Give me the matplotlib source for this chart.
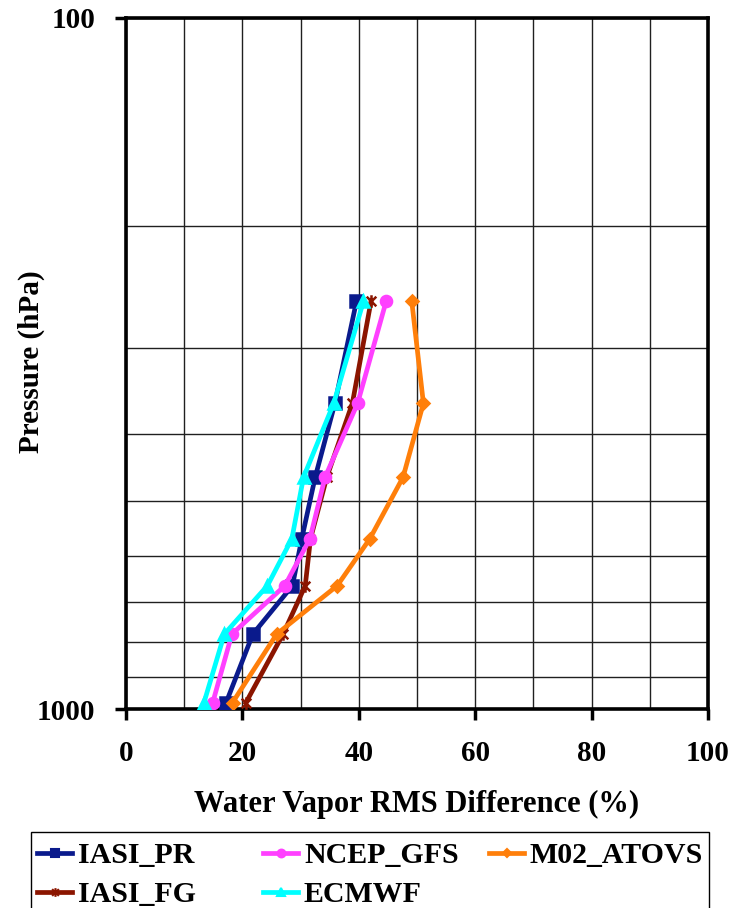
import matplotlib
matplotlib.use("Agg")
import matplotlib.pyplot as plt
from matplotlib.path import Path
from matplotlib.lines import Line2D
from matplotlib.patches import Rectangle
from matplotlib.ticker import FixedLocator, NullFormatter, MultipleLocator

# ── data: RMS difference (%) at each pressure layer ──────────────────────────
pressure = [257, 361, 462, 567, 663, 779, 979]

iasi_pr   = [39.6, 35.9, 32.5, 30.2, 28.6, 21.8, 17.2]
iasi_fg   = [42.1, 38.9, 34.5, 31.7, 30.8, 27.0, 20.6]
ncep_gfs  = [44.7, 39.8, 34.2, 31.6, 27.3, 18.2, 14.9]
ecmwf     = [40.8, 35.7, 30.5, 28.5, 24.3, 16.9, 13.4]
m02_atovs = [49.1, 51.1, 47.6, 41.9, 36.3, 25.9, 18.3]

x_ticks = [0, 20, 40, 60, 80, 100]
y_ticks = [100, 1000]

# star marker: an X with a vertical bar through it
star = Path([(-1, -1), (1, 1), (-1, 1), (1, -1), (0, -1.3), (0, 1.3)],
            [Path.MOVETO, Path.LINETO, Path.MOVETO, Path.LINETO,
             Path.MOVETO, Path.LINETO])

series = [
    ("IASI_PR",   iasi_pr,   "#0a1a8c", "s",  8),
    ("IASI_FG",   iasi_fg,   "#8b1500", star, 9),
    ("NCEP_GFS",  ncep_gfs,  "#ff40ff", "o",  8),
    ("ECMWF",     ecmwf,     "#00ffff", "^",  9),
    ("M02_ATOVS", m02_atovs, "#ff7f0a", "D",  6),
]

FONT = "Liberation Serif"
W, H = 734, 908

def fx(px):
    return px / W

def fy(py):
    return 1 - py / H

fig = plt.figure(figsize=(W / 100, H / 100), dpi=100)
ax = fig.add_axes([fx(126), fy(709), (708 - 126) / W, (709 - 18) / H])

for name, vals, col, mk, ms in series:
    ax.plot(vals, pressure, color=col, lw=3.4, marker=mk, ms=ms,
            mec=col, mfc=col, mew=1.8, label=name, zorder=3)

ax.set_yscale("log")
ax.set_ylim(1000, 100)
ax.set_xlim(0, 100)

ax.yaxis.set_major_locator(FixedLocator(y_ticks))
ax.yaxis.set_minor_locator(FixedLocator([200, 300, 400, 500, 600, 700, 800, 900]))
ax.yaxis.set_minor_formatter(NullFormatter())
ax.set_yticklabels([str(t) for t in y_ticks])
ax.set_xticks(x_ticks)
ax.xaxis.set_minor_locator(MultipleLocator(10))

ax.grid(True, which="both", color="#202020", lw=1.0, zorder=1)
ax.tick_params(which="major", direction="out", length=8, width=2.5,
               labelsize=21, pad=14)
ax.tick_params(which="minor", length=0)
for lab in ax.get_xticklabels() + ax.get_yticklabels():
    lab.set_fontfamily(FONT)
    lab.set_fontweight("bold")

for sp in ax.spines.values():
    sp.set_linewidth(2.6)
    sp.set_color("black")

ax.set_xlabel("Water Vapor RMS Difference (%)", fontsize=22,
              fontweight="bold", family=FONT, labelpad=17)
fig.text(fx(31), fy(362), "Pressure (hPa)", rotation=90, fontsize=21,
         fontweight="bold", family=FONT, ha="center", va="center")

# ── legend box (runs off the bottom edge) ────────────────────────────────────
fig.add_artist(Rectangle((fx(31), fy(940)), (709 - 31) / W, (940 - 832) / H,
                         transform=fig.transFigure, fill=False,
                         edgecolor="black", lw=1.0, clip_on=False))

slots = {
    "IASI_PR": (37, 852.7), "NCEP_GFS": (263, 852.7), "M02_ATOVS": (489, 852.7),
    "IASI_FG": (37, 891.7), "ECMWF": (263, 891.7),
}
for name, vals, col, mk, ms in series:
    x0, yc = slots[name]
    fig.add_artist(Line2D([fx(x0), fx(x0 + 35)], [fy(yc), fy(yc)],
                          transform=fig.transFigure, color=col, lw=3.4))
    fig.add_artist(Line2D([fx(x0 + 17.5)], [fy(yc)], transform=fig.transFigure,
                          color=col, marker=mk, ms=ms * 0.7, mec=col, mfc=col,
                          mew=1.5))
    fig.text(fx(x0 + 41), fy(yc + 10), name, fontsize=21.5, fontweight="bold",
             family=FONT, ha="left", va="baseline")

fig.savefig("out.png", dpi=100)
